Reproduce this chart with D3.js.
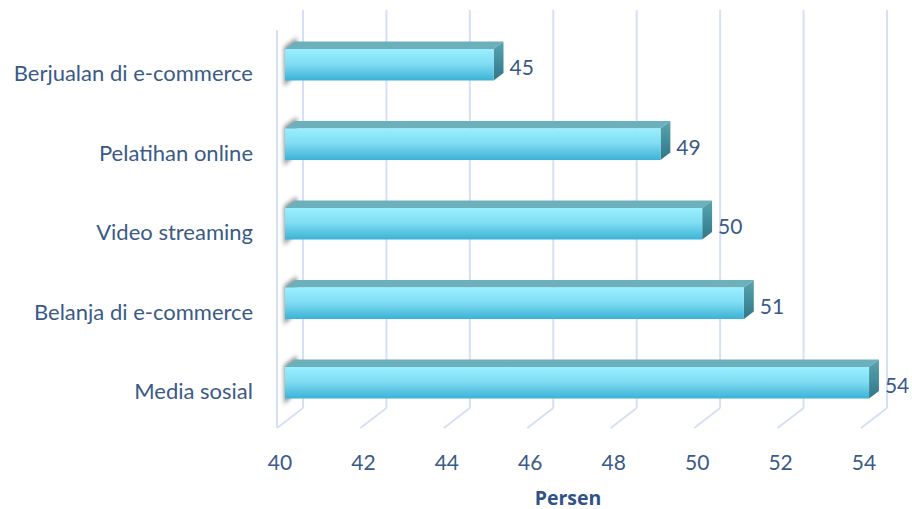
<!DOCTYPE html>
<html>
<head>
<meta charset="utf-8">
<script src="https://cdn.jsdelivr.net/npm/d3@7"></script>
<style>
  html, body { margin: 0; padding: 0; background: #fff; }
  svg { display: block; }
</style>
</head>
<body>
<svg id="chart" width="912" height="509"></svg>
<script>
// Survey categories (top to bottom) and their share in percent
const categories = ["Berjualan di e-commerce", "Pelatihan online", "Video streaming", "Belanja di e-commerce", "Media sosial"];
const values = [45, 49, 50, 51, 54];
const xTicks = [40, 42, 44, 46, 48, 50, 52, 54];
const axisTitle = "Persen";

const svg = d3.select("#chart");
const textColor = "#3a5a88";
const gridColor = "#d5e0f4";
const font = "Lato, 'Open Sans', sans-serif";

// front plane of the 3D box; depth is applied as an oblique offset
const x = d3.scaleLinear().domain([40, 54]).range([277, 861]);
const depth = d => ({ dx: 26 * d, dy: -20 * d });
const floorY = 428;
const wallTop = 10;

// bar centres on the front face of the bars
const y = d3.scalePoint().domain(categories).range([64.75, 382.75]);
const barH = 31.5;
const barFront = depth(0.31);
const barBack = depth(0.69);

const defs = svg.append("defs");
const gFront = defs.append("linearGradient").attr("id", "gFront").attr("x1", 0).attr("y1", 0).attr("x2", 0).attr("y2", 1);
gFront.append("stop").attr("offset", "0%").attr("stop-color", "#98efff");
gFront.append("stop").attr("offset", "45%").attr("stop-color", "#82def4");
gFront.append("stop").attr("offset", "100%").attr("stop-color", "#3cb2d6");
const gSide = defs.append("linearGradient").attr("id", "gSide").attr("x1", 0).attr("y1", 0).attr("x2", 0).attr("y2", 1);
gSide.append("stop").attr("offset", "0%").attr("stop-color", "#5aa5b2");
gSide.append("stop").attr("offset", "100%").attr("stop-color", "#2f7686");
defs.append("filter").attr("id", "soft").attr("x", "-50%").attr("y", "-50%").attr("width", "200%").attr("height", "200%")
  .append("feGaussianBlur").attr("stdDeviation", 2.2);

// walls: back grid lines, floor lines, left wall edge
const back = depth(1);
const grid = svg.append("g").attr("stroke", gridColor).attr("stroke-width", 2).attr("fill", "none");
grid.selectAll("line.back").data(xTicks).join("line").attr("class", "back")
  .attr("x1", d => x(d) + back.dx).attr("x2", d => x(d) + back.dx)
  .attr("y1", wallTop).attr("y2", floorY + back.dy);
grid.selectAll("line.floor").data(xTicks).join("line").attr("class", "floor")
  .attr("x1", d => x(d) + back.dx).attr("y1", floorY + back.dy)
  .attr("x2", d => x(d)).attr("y2", floorY);
grid.append("line")
  .attr("x1", x(40)).attr("x2", x(40))
  .attr("y1", wallTop - back.dy).attr("y2", floorY);

// bars
const bars = svg.append("g");
categories.forEach((c, i) => {
  const v = values[i];
  const top = y(c) - barH / 2, bot = y(c) + barH / 2;
  const xl = x(40) + barFront.dx, xr = x(v) + barFront.dx;
  const ox = barBack.dx - barFront.dx, oy = barBack.dy - barFront.dy;
  const g = bars.append("g");
  // soft shadow at the base of the bar on the left wall
  g.append("polygon")
    .attr("points", [[xl - 1, top - 2], [xl + ox + 2, top + oy - 4], [xl + ox + 2, bot + oy], [xl - 1, bot + 6]].map(p => p.join(",")).join(" "))
    .attr("fill", "#6e6e6e").attr("opacity", 0.75).attr("filter", "url(#soft)");
  // top face
  g.append("polygon")
    .attr("points", [[xl, top], [xl + ox, top + oy], [xr + ox, top + oy], [xr, top]].map(p => p.join(",")).join(" "))
    .attr("fill", "#6cb0bc");
  // side face
  g.append("polygon")
    .attr("points", [[xr, top], [xr + ox, top + oy], [xr + ox, bot + oy], [xr, bot]].map(p => p.join(",")).join(" "))
    .attr("fill", "url(#gSide)");
  // front face
  g.append("rect").attr("x", xl).attr("y", top).attr("width", xr - xl).attr("height", barH)
    .attr("fill", "url(#gFront)");
  // value label
  g.append("text")
    .attr("x", xr + ox + 6).attr("y", y(c) + 2)
    .attr("dominant-baseline", "central")
    .attr("font-family", font).attr("font-size", 21)
    .attr("fill", textColor).text(v);
});

// category labels
svg.append("g").selectAll("text").data(categories).join("text")
  .attr("x", 253).attr("y", d => y(d) + 8)
  .attr("text-anchor", "end").attr("dominant-baseline", "central")
  .attr("font-family", font).attr("font-size", 22)
  .attr("fill", textColor).text(d => d);

// x tick labels
svg.append("g").selectAll("text").data(xTicks).join("text")
  .attr("x", d => x(d) + 3).attr("y", 461)
  .attr("text-anchor", "middle").attr("dominant-baseline", "central")
  .attr("font-family", font).attr("font-size", 21)
  .attr("fill", textColor).text(d => d);

// axis title
svg.append("text")
  .attr("x", 568).attr("y", 497)
  .attr("text-anchor", "middle").attr("dominant-baseline", "central")
  .attr("font-family", "'Open Sans', Lato, sans-serif").attr("font-size", 19.5).attr("font-weight", "bold")
  .attr("fill", "#2f5388").text(axisTitle);
</script>
</body>
</html>
